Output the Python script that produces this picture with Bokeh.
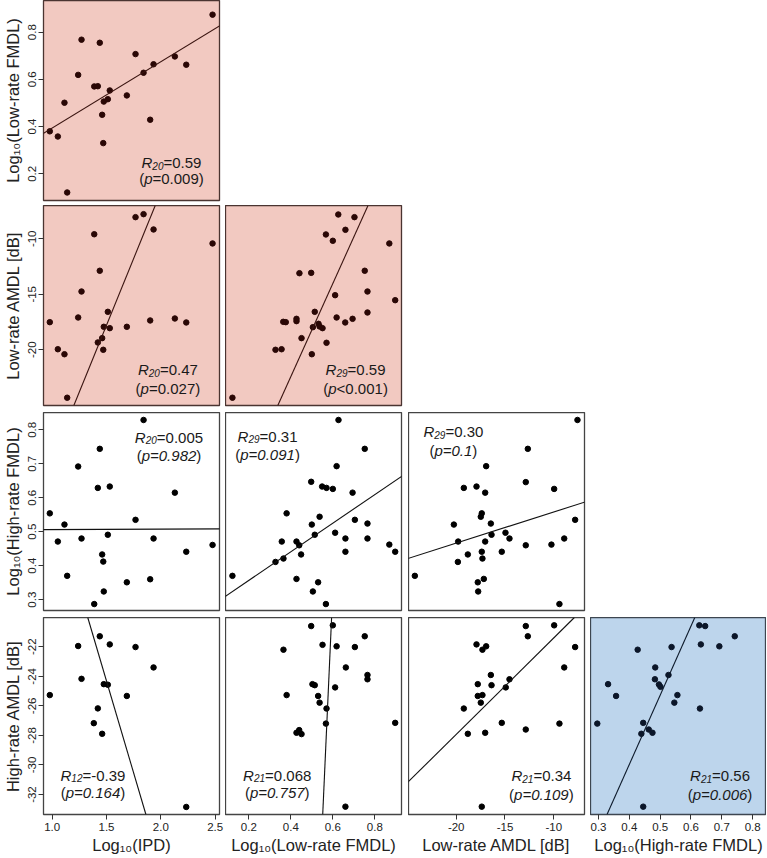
from bokeh.plotting import figure
from bokeh.layouts import column, row
from bokeh.models import Label, Slope, FixedTicker, Range1d, PrintfTickFormatter
from bokeh.embed import file_html
from bokeh.resources import INLINE

# ---------------- data ----------------
ipd_22 = [0.978, 1.052, 1.113, 1.138, 1.239, 1.270, 1.387, 1.420, 1.438, 1.460, 1.470,
          1.475, 1.512, 1.530, 1.687, 1.767, 1.841, 1.902, 1.933, 2.129, 2.234, 2.476]
lowfm_vs_ipd = [0.380, 0.358, 0.501, 0.121, 0.619, 0.768, 0.570, 0.571, 0.755, 0.450, 0.330,
                0.506, 0.516, 0.553, 0.532, 0.707, 0.628, 0.429, 0.664, 0.697, 0.662, 0.874]
lowam_vs_ipd = [-17.51, -19.95, -20.40, -24.32, -17.09, -14.75, -9.59, -19.34, -12.88, -18.95, -20.00,
                -17.93, -16.58, -18.05, -17.93, -8.05, -7.78, -17.36, -9.16, -17.18, -17.54, -10.42]
highfm_vs_ipd = [0.554, 0.471, 0.521, 0.370, 0.692, 0.480, 0.287, 0.629, 0.744, 0.433, 0.412,
                 0.324, 0.491, 0.633, 0.351, 0.535, 0.829, 0.360, 0.480, 0.615, 0.441, 0.461]
ipd_14 = [0.978, 1.239, 1.270, 1.383, 1.420, 1.438, 1.460, 1.475, 1.512, 1.530, 1.687, 1.767, 1.933, 2.234]
higham_vs_ipd = [-25.27, -21.95, -24.17, -27.17, -26.17, -21.29, -27.89, -24.53, -24.57, -21.84,
                 -25.33, -22.02, -23.40, -32.84]

lowfm_31a = [0.122, 0.327, 0.356, 0.364, 0.376, 0.427, 0.427, 0.441, 0.451, 0.497, 0.500, 0.505, 0.514,
             0.532, 0.537, 0.551, 0.567, 0.570, 0.600, 0.611, 0.618, 0.626, 0.659, 0.660, 0.694, 0.703,
             0.752, 0.765, 0.765, 0.869, 0.897]
lowam_vs_lowfm = [-24.32, -20.00, -19.95, -17.48, -17.51, -17.21, -17.42, -13.10, -18.95, -13.07, -20.40,
                  -17.96, -16.58, -17.66, -17.90, -18.05, -9.61, -19.37, -10.18, -15.08, -17.09, -7.81,
                  -17.54, -9.19, -17.21, -8.05, -12.88, -14.75, -16.64, -10.42, -15.53]
lowfm_31b = [0.122, 0.327, 0.357, 0.365, 0.380, 0.427, 0.427, 0.440, 0.449, 0.497, 0.500, 0.505, 0.514,
             0.530, 0.537, 0.549, 0.567, 0.570, 0.600, 0.611, 0.618, 0.627, 0.660, 0.660, 0.694, 0.705,
             0.752, 0.765, 0.765, 0.869, 0.897]
highfm_vs_lowfm = [0.370, 0.411, 0.471, 0.421, 0.554, 0.471, 0.361, 0.460, 0.433, 0.647, 0.521, 0.324,
                   0.491, 0.351, 0.544, 0.633, 0.287, 0.629, 0.626, 0.497, 0.693, 0.829, 0.480, 0.441,
                   0.615, 0.535, 0.744, 0.524, 0.480, 0.462, 0.441]
lowam_31 = [-24.24, -20.24, -19.83, -19.80, -19.22, -18.81, -17.92, -17.79, -17.75, -17.48, -17.38,
            -17.38, -17.31, -17.17, -17.03, -17.03, -16.93, -16.45, -16.38, -15.33, -14.95, -14.54,
            -12.87, -12.87, -12.66, -10.24, -9.96, -9.42, -8.93, -7.81, -7.57]
highfm_vs_lowam = [0.370, 0.521, 0.411, 0.471, 0.629, 0.433, 0.633, 0.351, 0.324, 0.544, 0.554, 0.441,
                   0.421, 0.361, 0.615, 0.471, 0.693, 0.524, 0.491, 0.441, 0.497, 0.480, 0.646, 0.460,
                   0.744, 0.462, 0.626, 0.287, 0.480, 0.535, 0.829]

lowfm_23 = [0.365, 0.380, 0.427, 0.440, 0.451, 0.497, 0.503, 0.514, 0.530, 0.537, 0.551, 0.567, 0.570,
            0.600, 0.611, 0.618, 0.660, 0.662, 0.705, 0.752, 0.765, 0.765, 0.897]
higham_vs_lowfm = [-22.20, -25.27, -27.82, -27.64, -27.91, -20.60, -24.53, -24.60, -25.33, -25.78, -21.87,
                   -27.20, -26.18, -20.55, -24.75, -21.97, -32.82, -23.40, -22.02, -21.29, -23.91, -24.20,
                   -27.15]
lowam_23 = [-19.22, -18.81, -17.92, -17.79, -17.79, -17.48, -17.31, -17.31, -17.03, -16.93, -16.45,
            -16.38, -15.33, -14.92, -14.54, -12.87, -12.87, -12.66, -9.96, -9.42, -8.93, -7.81, -17.38]
higham_vs_lowam = [-26.18, -27.89, -21.84, -24.53, -25.33, -25.78, -25.27, -22.20, -27.82, -21.97, -23.91,
                   -24.60, -27.15, -24.75, -24.20, -20.60, -27.60, -21.29, -20.55, -27.20, -23.40, -22.02,
                   -32.82]
highfm_23 = [0.296, 0.331, 0.357, 0.427, 0.439, 0.445, 0.445, 0.463, 0.475, 0.483, 0.484, 0.496, 0.501,
             0.527, 0.537, 0.546, 0.556, 0.627, 0.629, 0.632, 0.646, 0.692, 0.742]
higham_vs_highfm = [-27.20, -24.53, -25.33, -22.20, -27.89, -27.15, -32.82, -27.60, -27.82, -24.20, -23.40,
                    -24.55, -24.71, -23.91, -22.02, -25.78, -25.27, -20.55, -26.18, -21.84, -20.60, -21.97,
                    -21.29]

# regression lines: (slope, intercept)
fit_lines = {
    (0, 0): (0.281, 0.113), (1, 0): (24.05, -53.86), (1, 1): (41.95, -39.2),
    (2, 0): (0.0013, 0.505), (2, 1): (0.421, 0.2725), (2, 2): (0.00916, 0.6497),
    (3, 0): (-24.9, 13.03), (3, 1): (315.0, -207.2), (3, 2): (0.653, -14.87), (3, 3): (46.8, -48.68),
}
# stats: (df, R, p-relation+value)
stats = {
    (0, 0): ("20", "0.59", "=0.009"), (1, 0): ("20", "0.47", "=0.027"), (1, 1): ("29", "0.59", "<0.001"),
    (2, 0): ("20", "0.005", "=0.982"), (2, 1): ("29", "0.31", "=0.091"), (2, 2): ("29", "0.30", "=0.1"),
    (3, 0): ("12", "-0.39", "=0.164"), (3, 1): ("21", "0.068", "=0.757"), (3, 2): ("21", "0.34", "=0.109"),
    (3, 3): ("21", "0.56", "=0.006"),
}
points = {
    (0, 0): (ipd_22, lowfm_vs_ipd), (1, 0): (ipd_22, lowam_vs_ipd), (1, 1): (lowfm_31a, lowam_vs_lowfm),
    (2, 0): (ipd_22, highfm_vs_ipd), (2, 1): (lowfm_31b, highfm_vs_lowfm), (2, 2): (lowam_31, highfm_vs_lowam),
    (3, 0): (ipd_14, higham_vs_ipd), (3, 1): (lowfm_23, higham_vs_lowfm), (3, 2): (lowam_23, higham_vs_lowam),
    (3, 3): (highfm_23, higham_vs_highfm),
}

x_titles = ["Log₁₀(IPD)", "Log₁₀(Low-rate FMDL)", "Low-rate AMDL [dB]", "Log₁₀(High-rate FMDL)"]
y_titles = ["Log₁₀(Low-rate FMDL)", "Low-rate AMDL [dB]", "Log₁₀(High-rate FMDL)", "High-rate AMDL [dB]"]
x_ticks = [[1.0, 1.5, 2.0, 2.5], [0.2, 0.4, 0.6, 0.8], [-20, -15, -10], [0.3, 0.4, 0.5, 0.6, 0.7, 0.8]]
y_ticks = [[0.2, 0.4, 0.6, 0.8], [-20, -15, -10], [0.3, 0.4, 0.5, 0.6, 0.7, 0.8], [-32, -30, -28, -26, -24, -22]]
x_fmt = ["%.1f", "%.1f", "%d", "%.1f"]
y_fmt = ["%.1f", "%d", "%.1f", "%d"]

# ---------------- layout / style ----------------
x_lims = [(0.92, 2.54), (0.089, 0.927), (-24.89, -6.85), (0.274, 0.845)]
y_lims = [(0.087, 0.934), (-25.02, -7.0), (0.268, 0.851), (-33.35, -20.02)]
ann_pos = {  # fraction of frame (x centre, y line1, y line2)
    (0, 0): (0.727, 0.19, 0.112), (1, 0): (0.707, 0.18, 0.085), (1, 1): (0.739, 0.18, 0.085),
    (2, 0): (0.713, 0.874, 0.783), (2, 1): (0.239, 0.880, 0.786), (2, 2): (0.255, 0.904, 0.808),
    (3, 0): (0.281, 0.20, 0.11), (3, 1): (0.294, 0.20, 0.11), (3, 2): (0.755, 0.197, 0.10),
    (3, 3): (0.736, 0.197, 0.10),
}
FONT = "Liberation Sans"
FRAME_W = [176, 176, 176, 176]
HGAPS = [6, 7, 6, 0]
FRAME_H = [200, 200, 198, 200]
VGAPS = [5, 7, 7, 39]
LB = 43
PINK, BLUE = "#F2C9C1", "#BDD5EC"

CW = {str(d): 0.556 for d in range(10)}
CW.update({".": 0.278, "=": 0.584, "<": 0.584, "-": 0.333, "(": 0.333, ")": 0.333, "R": 0.722, "p": 0.556})


def tw(s, size):
    return sum(CW.get(ch, 0.556) for ch in s) * size


def add_pieces(p, x, y, pieces, color):
    total = sum(tw(t, sz) for t, sz, it, dy in pieces)
    off = -total / 2.0
    for t, sz, it, dy in pieces:
        p.add_layout(Label(x=x, y=y, x_offset=off, y_offset=dy, text=t, text_font=FONT,
                           text_font_size=f"{sz}px", text_font_style="italic" if it else "normal",
                           text_baseline="middle", text_align="left", text_color=color))
        off += tw(t, sz)


def make(r, c):
    left = c == 0
    bottom = r == 3
    if r <= 1:
        bg, pc, lc, oc = PINK, "#2a0705", "#3a1410", "#4a3431"
    elif (r, c) == (3, 3):
        bg, pc, lc, oc = BLUE, "#0b1629", "#0d1a2b", "#3d4650"
    else:
        bg, pc, lc, oc = "white", "black", "#111111", "#444444"
    w = (LB if left else 0) + FRAME_W[c] + HGAPS[c]
    h = FRAME_H[r] + VGAPS[r]
    p = figure(width=w, height=h, x_range=Range1d(*x_lims[c]), y_range=Range1d(*y_lims[r]),
               output_backend="svg", toolbar_location=None,
               min_border_left=LB if left else 0, min_border_right=HGAPS[c],
               min_border_top=0, min_border_bottom=VGAPS[r])
    p.background_fill_color = bg
    p.border_fill_color = "white"
    p.outline_line_color = oc
    p.outline_line_width = 1.3
    p.grid.visible = False
    for ax in p.xaxis + p.yaxis:
        ax.axis_line_color = None
        ax.minor_tick_line_color = None
        ax.major_tick_in = 0
        ax.major_tick_out = 5
        ax.major_tick_line_color = "#333333"
        ax.major_label_text_font = FONT
        ax.major_label_text_font_size = "11.5px"
        ax.major_label_text_color = "#222222"
        ax.axis_label_text_font = FONT
        ax.axis_label_text_font_size = "16.5px"
        ax.axis_label_text_font_style = "normal"
        ax.axis_label_text_color = "#222222"
    if bottom:
        p.xaxis.ticker = FixedTicker(ticks=x_ticks[c])
        p.xaxis.formatter = PrintfTickFormatter(format=x_fmt[c])
        p.xaxis.axis_label = x_titles[c]
        p.xaxis.major_label_standoff = 3
        p.xaxis.axis_label_standoff = 2
    else:
        p.xaxis.visible = False
    if left:
        p.yaxis.ticker = FixedTicker(ticks=y_ticks[r])
        p.yaxis.formatter = PrintfTickFormatter(format=y_fmt[r])
        p.yaxis.axis_label = y_titles[r]
        p.yaxis.major_label_orientation = "vertical"
        p.yaxis.major_label_standoff = 2
        p.yaxis.axis_label_standoff = 4
    else:
        p.yaxis.visible = False

    xs, ys = points[(r, c)]
    p.add_layout(Slope(gradient=fit_lines[(r, c)][0], y_intercept=fit_lines[(r, c)][1],
                       line_color=lc, line_width=1.1))
    p.scatter(xs, ys, size=5.5, fill_color=pc, line_color=pc)

    df, rv, pv = stats[(r, c)]
    fx, fy1, fy2 = ann_pos[(r, c)]
    x0, x1 = x_lims[c]
    y0, y1 = y_lims[r]
    ax_ = x0 + fx * (x1 - x0)
    tc = "#1a1a1a"
    add_pieces(p, ax_, y0 + fy1 * (y1 - y0),
               [("R", 15, True, 0), (df, 10, True, -3), ("=" + rv, 15, False, 0)], tc)
    if r <= 1:
        l2 = [("(", 15, False, 0), ("p", 15, True, 0), (pv + ")", 15, False, 0)]
    else:
        l2 = [("(", 15, False, 0), ("p" + pv, 15, True, 0), (")", 15, False, 0)]
    add_pieces(p, ax_, y0 + fy2 * (y1 - y0), l2, tc)
    return p


rows = []
for r in range(4):
    rows.append(row(*[make(r, c) for c in range(r + 1)]))
layout = column(*rows)

open("out.html", "w").write(file_html(layout, INLINE, "scatter matrix"))
